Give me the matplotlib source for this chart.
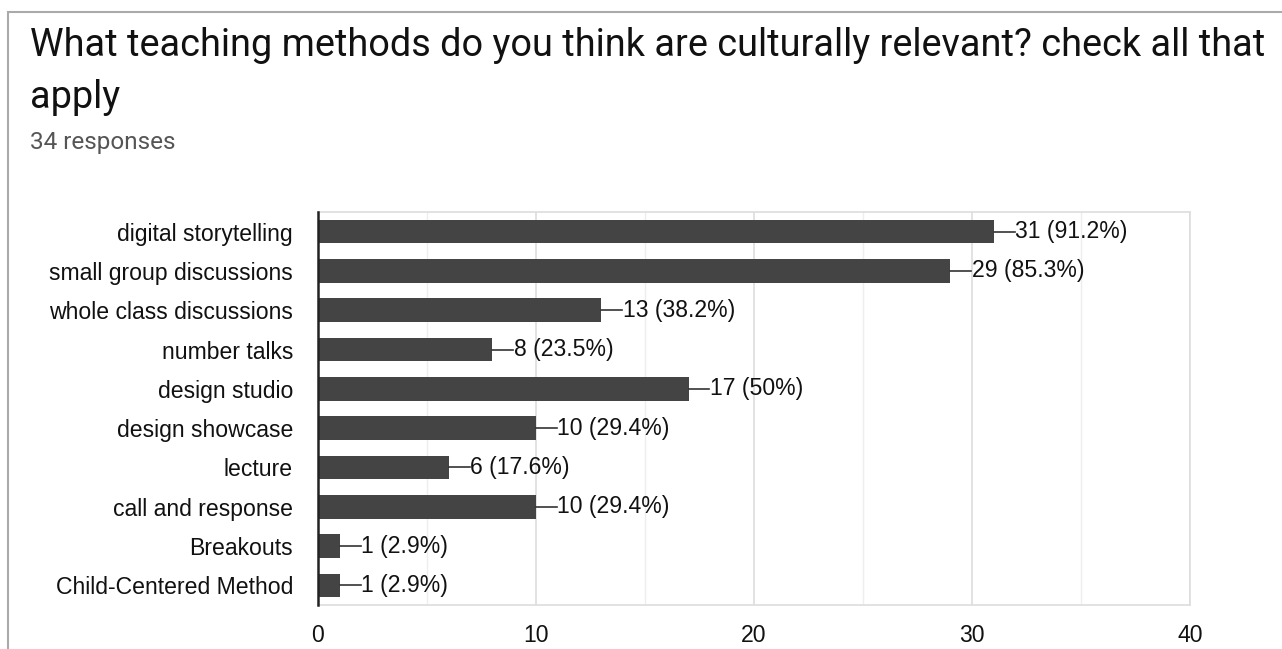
import matplotlib.pyplot as plt
from matplotlib.patches import Rectangle

categories = ['digital storytelling', 'small group discussions', 'whole class discussions',
              'number talks', 'design studio', 'design showcase', 'lecture',
              'call and response', 'Breakouts', 'Child-Centered Method']
counts = [31, 29, 13, 8, 17, 10, 6, 10, 1, 1]
pcts = ['91.2%', '85.3%', '38.2%', '23.5%', '50%', '29.4%', '17.6%', '29.4%', '2.9%', '2.9%']
xticks = [0, 10, 20, 30, 40]

W, H = 1282, 649
fig = plt.figure(figsize=(W / 100, H / 100), dpi=100)

# card border
fig.patches.append(Rectangle((8 / W, -0.1), 1.2, 1 - 12 / H + 0.1, transform=fig.transFigure,
                             fill=False, edgecolor='#aaaaaa', linewidth=1.5))

fig.text(30 / W, 1 - 45 / H, 'What teaching methods do you think are culturally relevant? check all that',
         fontsize=27.3, family='Roboto', color='#111111', va='center')
fig.text(30 / W, 1 - 97 / H, 'apply', fontsize=27.3, family='Roboto', color='#111111', va='center')
fig.text(30 / W, 1 - 143 / H, '34 responses', fontsize=17.5, family='Roboto', color='#555555', va='center')

ax = fig.add_axes([318 / W, 1 - 605 / H, (1190 - 318) / W, (605 - 212) / H])
y = list(range(len(categories)))
ax.barh(y, counts, height=0.6, color='#444444', zorder=3)
ax.set_ylim(len(categories) - 0.5, -0.5)
ax.set_xlim(0, 40)

for i, (c, p) in enumerate(zip(counts, pcts)):
    ax.plot([c, c + 0.95], [i, i], color='#333333', linewidth=1.2, zorder=3)
    ax.text(c + 0.98, i, f'{c} ({p})', va='center', ha='left', fontsize=16.6,
            family='Liberation Sans', color='#111111')

ax.set_yticks(y)
ax.set_yticklabels(categories, fontsize=16.6, family='Liberation Sans', color='#111111')
ax.set_xticks(xticks)
ax.set_xticklabels([str(t) for t in xticks], fontsize=16.6, family='Liberation Sans', color='#111111')
ax.set_xticks([5, 15, 25, 35], minor=True)
ax.tick_params(axis='both', which='both', length=0)
ax.tick_params(axis='x', pad=14)
ax.tick_params(axis='y', pad=18)
ax.grid(axis='x', which='major', color='#dddddd', linewidth=1.2, zorder=0)
ax.grid(axis='x', which='minor', color='#eeeeee', linewidth=1.0, zorder=0)
for s in ['top', 'right', 'bottom']:
    ax.spines[s].set_color('#dddddd')
    ax.spines[s].set_linewidth(1.2)
ax.spines['left'].set_color('#222222')
ax.spines['left'].set_linewidth(1.8)
ax.spines['left'].set_zorder(4)

fig.savefig('out.png', dpi=100)
